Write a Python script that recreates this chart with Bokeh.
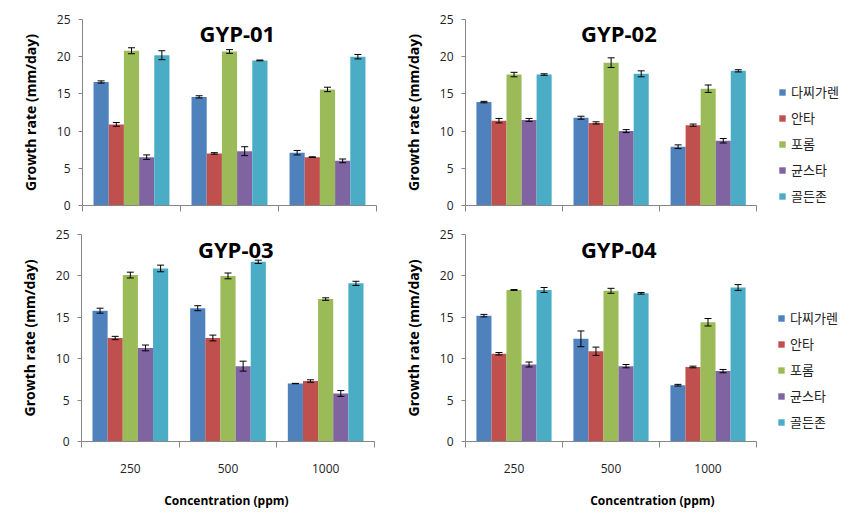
from bokeh.plotting import figure
from bokeh.models import (ColumnDataSource, Whisker, TeeHead, FixedTicker, Legend,
                          LegendItem, Label, Range1d)
from bokeh.layouts import column, row
from bokeh.transform import dodge
from bokeh.embed import file_html
from bokeh.resources import INLINE

concentrations = ["250", "500", "1000"]
cultivars = ["다찌가렌", "안타", "포롬", "균스타", "골든존"]
colors = ["#4F81BD", "#C0504D", "#9BBB59", "#8064A2", "#4BACC6"]
y_ticks = [0, 5, 10, 15, 20, 25]

# rows: cultivars, columns: concentrations 250 / 500 / 1000 ppm
gyp01_mean = [[16.6, 14.6, 7.1], [10.9, 7.0, 6.5], [20.8, 20.7, 15.6], [6.5, 7.3, 6.0], [20.2, 19.5, 20.0]]
gyp01_err = [[0.15, 0.15, 0.3], [0.25, 0.1, 0.05], [0.4, 0.25, 0.3], [0.3, 0.6, 0.25], [0.6, 0.05, 0.3]]

gyp02_mean = [[13.9, 11.8, 7.9], [11.4, 11.1, 10.8], [17.6, 19.2, 15.7], [11.5, 10.0, 8.7], [17.6, 17.7, 18.1]]
gyp02_err = [[0.1, 0.2, 0.25], [0.3, 0.15, 0.15], [0.3, 0.65, 0.5], [0.2, 0.2, 0.3], [0.1, 0.4, 0.15]]

gyp03_mean = [[15.8, 16.1, 7.0], [12.5, 12.5, 7.3], [20.1, 20.0, 17.2], [11.3, 9.1, 5.8], [20.9, 21.7, 19.1]]
gyp03_err = [[0.3, 0.3, 0.02], [0.2, 0.35, 0.15], [0.35, 0.35, 0.15], [0.35, 0.6, 0.35], [0.4, 0.2, 0.25]]

gyp04_mean = [[15.2, 12.4, 6.8], [10.6, 10.9, 9.0], [18.3, 18.2, 14.4], [9.3, 9.1, 8.5], [18.3, 17.9, 18.6]]
gyp04_err = [[0.15, 0.95, 0.1], [0.15, 0.5, 0.1], [0.05, 0.3, 0.45], [0.3, 0.2, 0.2], [0.3, 0.1, 0.35]]

AXIS_COLOR = "#868686"
LATIN = "Open Sans"
KOREAN = "Noto Sans CJK KR"


def make_panel(title, means, errs, width, height, bl, br, bt, bb, bottom_row,
               legend_y=None, plot_w=None):
    fw = width - bl - br
    n = len(concentrations)
    # when a legend is present, the frame extends to the right to hold it;
    # the data area (and the axis) still cover only the 3 categories
    x_end = n if plot_w is None else n * fw / plot_w
    p = figure(width=width, height=height, x_range=Range1d(0, x_end), y_range=Range1d(0, 25),
               output_backend="svg", toolbar_location=None,
               min_border_left=bl, min_border_right=br, min_border_top=bt, min_border_bottom=bb)
    p.outline_line_color = None
    p.xgrid.grid_line_color = None
    p.ygrid.grid_line_color = None
    p.background_fill_color = "white"
    p.border_fill_color = "white"

    bar_w = 0.155
    centers = [i + 0.5 for i in range(n)]
    renderers = []
    for j, (name, col) in enumerate(zip(cultivars, colors)):
        m = means[j]
        e = errs[j]
        src = ColumnDataSource(dict(
            x=centers, top=m,
            upper=[a + b for a, b in zip(m, e)],
            lower=[a - b for a, b in zip(m, e)],
        ))
        off = (j - 2) * bar_w
        r = p.vbar(x=dodge("x", off), top="top", width=bar_w, source=src,
                   fill_color=col, line_color=None)
        renderers.append((name, r))
        w = Whisker(base=dodge("x", off), upper="upper", lower="lower", source=src,
                    line_color="black", line_width=1,
                    upper_head=TeeHead(size=7, line_color="black", line_width=1),
                    lower_head=TeeHead(size=7, line_color="black", line_width=1))
        w.level = "annotation"
        p.add_layout(w)

    # x axis: ticks at category boundaries, labels at centres
    xa = p.xaxis[0]
    xa.bounds = (0, n)
    xa.ticker = FixedTicker(ticks=centers, minor_ticks=list(range(n + 1)))
    xa.major_tick_out = 0
    xa.major_tick_in = 0
    xa.minor_tick_out = 6
    xa.minor_tick_in = 0
    xa.minor_tick_line_color = AXIS_COLOR
    xa.axis_line_color = AXIS_COLOR
    if bottom_row:
        xa.major_label_overrides = {c: lab for c, lab in zip(centers, concentrations)}
        xa.major_label_text_font = LATIN
        xa.major_label_text_font_size = "12px"
        xa.major_label_text_color = "#222222"
        xa.major_label_standoff = 16
        xa.axis_label = "Concentration  (ppm)"
        xa.axis_label_text_font = LATIN
        xa.axis_label_text_font_size = "12px"
        xa.axis_label_text_font_style = "bold"
        xa.axis_label_text_color = "black"
        xa.axis_label_standoff = 16
    else:
        xa.major_label_overrides = {c: "" for c in centers}
        xa.major_label_text_font_size = "8px"
        xa.major_label_standoff = 0

    ya = p.yaxis[0]
    ya.ticker = FixedTicker(ticks=y_ticks)
    ya.major_tick_out = 4
    ya.major_tick_in = 0
    ya.minor_tick_line_color = None
    ya.axis_line_color = AXIS_COLOR
    ya.major_tick_line_color = AXIS_COLOR
    ya.major_label_text_font = LATIN
    ya.major_label_text_font_size = "12px"
    ya.major_label_text_color = "#222222"
    ya.major_label_standoff = 8
    ya.axis_label = "Growth rate (mm/day)"
    ya.axis_label_text_font = LATIN
    ya.axis_label_text_font_size = "14px"
    ya.axis_label_text_font_style = "bold"
    ya.axis_label_text_color = "black"
    ya.axis_label_standoff = 14

    p.add_layout(Label(x=1.58, y=23.2, text=title, text_font=LATIN,
                       text_font_size="22px", text_font_style="bold",
                       text_align="center", text_baseline="middle", text_color="black"))

    if legend_y is not None:
        leg = Legend(items=[LegendItem(label=nm, renderers=[r]) for nm, r in renderers],
                     location=(plot_w + 21, legend_y))
        leg.border_line_color = None
        leg.background_fill_alpha = 0
        leg.padding = 0
        leg.margin = 0
        leg.glyph_width = 8
        leg.glyph_height = 8
        leg.label_height = 18
        leg.spacing = 7
        leg.label_standoff = 5
        leg.label_text_font = KOREAN
        leg.label_text_font_size = "13px"
        leg.label_text_color = "#222222"
        p.add_layout(leg, "center")
    return p


p1 = make_panel("GYP-01", gyp01_mean, gyp01_err, 400, 222, 82, 24, 19, 17, False)
p2 = make_panel("GYP-02", gyp02_mean, gyp02_err, 450, 222, 64, 8, 19, 17, False,
                legend_y=0, plot_w=292)
p3 = make_panel("GYP-03", gyp03_mean, gyp03_err, 400, 300, 81, 26, 12, 81, True)
p4 = make_panel("GYP-04", gyp04_mean, gyp04_err, 450, 300, 65, 8, 12, 80, True,
                legend_y=10, plot_w=291)

layout = column(row(p1, p2), row(p3, p4))
open("out.html", "w").write(file_html(layout, INLINE))
